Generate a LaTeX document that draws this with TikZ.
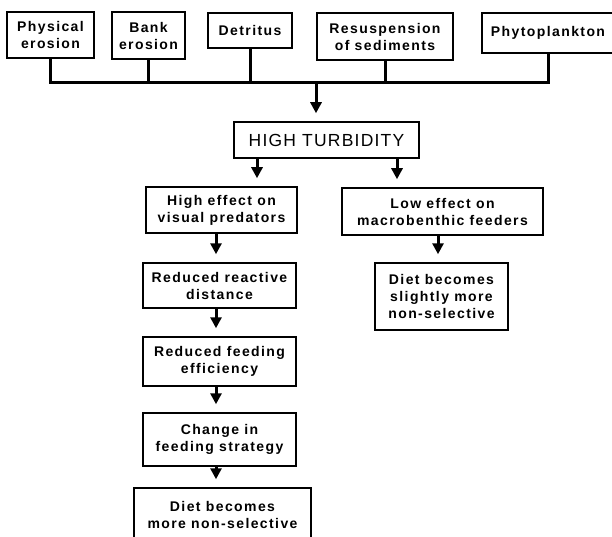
\documentclass[tikz,border=0pt]{standalone}
\usepackage{fontspec}
\setmainfont[LetterSpace=10]{Liberation Sans}
\newfontfamily\htfont[LetterSpace=7]{Liberation Sans}
\usetikzlibrary{arrows.meta}
\begin{document}
\begin{tikzpicture}[x=1pt,y=-1pt,
 box/.style={draw, line width=1.5pt, align=center, inner sep=0pt, font=\bfseries\fontsize{14}{17}\selectfont},
 conn/.style={line width=3pt},
 arr/.style={line width=3pt, -{Triangle[length=11pt,width=11pt]}, shorten >=8pt}]
\useasboundingbox (0,0) rectangle (612,537);
\clip (0,0) rectangle (612,537);
\node[box, minimum width=87pt, minimum height=46pt] (phys) at (50.5,35) {Physical\\erosion};
\node[box, minimum width=73pt, minimum height=47pt] (bank) at (148.5,35.5) {Bank\\erosion};
\node[box, minimum width=84pt, minimum height=35pt] (detr) at (250,30.5) {Detritus};
\node[box, minimum width=136pt, minimum height=47pt] (resus) at (385,36.5) {Resuspension\\of sediments};
\node[box, minimum width=132pt, minimum height=40pt] (phyto) at (548,33) {Phytoplankton};
\coordinate (bus) at (316,83);
\node[box, font=\htfont\fontsize{17.5}{20}\selectfont, minimum width=185pt, minimum height=36pt] (ht) at (326.5,140) {HIGH TURBIDITY};
\node[box, minimum width=151pt, minimum height=46pt] (high) at (221.5,210) {High effect on\\visual predators};
\node[box, minimum width=201pt, minimum height=47pt] (low) at (442.5,211.5) {Low effect on\\macrobenthic feeders};
\node[box, minimum width=153pt, minimum height=45pt] (react) at (219.5,285.5) {Reduced reactive\\distance};
\node[box, minimum width=153pt, minimum height=49pt] (feed) at (219.5,361.5) {Reduced feeding\\efficiency};
\node[box, minimum width=153pt, minimum height=53pt] (change) at (219.5,439.5) {Change in\\feeding strategy};
\node[box, minimum width=177pt, minimum height=54pt] (dietm) at (222.5,515) {Diet becomes\\more non-selective};
\node[box, minimum width=133pt, minimum height=67pt] (diets) at (441.5,296.5) {Diet becomes\\slightly more\\non-selective};
\draw[conn] (phys.south) |- (phyto.south |- bus) -- (phyto.south);
\draw[conn] (bank.south) -- (bank.south |- bus);
\draw[conn] (detr.south) -- (detr.south |- bus);
\draw[conn] (resus.south) -- (resus.south |- bus);
\draw[arr] (bus) -- (bus |- ht.north);
\draw[arr] ([xshift=-69.5pt]ht.south) -- ([xshift=-69.5pt]ht.south |- high.north);
\draw[arr] ([xshift=70.5pt]ht.south) -- ([xshift=70.5pt]ht.south |- low.north);
\draw[arr] ([xshift=-4.5pt]low.south) -- ([xshift=-4.5pt]low.south |- diets.north);
\draw[arr] ([xshift=-5.5pt]high.south) -- ([xshift=-5.5pt]high.south |- react.north);
\draw[arr] ([xshift=-3.5pt]react.south) -- ([xshift=-3.5pt]react.south |- feed.north);
\draw[arr] ([xshift=-3.5pt]feed.south) -- ([xshift=-3.5pt]feed.south |- change.north);
\draw[arr] ([xshift=-3.5pt]change.south) -- ([xshift=-3.5pt]change.south |- dietm.north);
\end{tikzpicture}
\end{document}
